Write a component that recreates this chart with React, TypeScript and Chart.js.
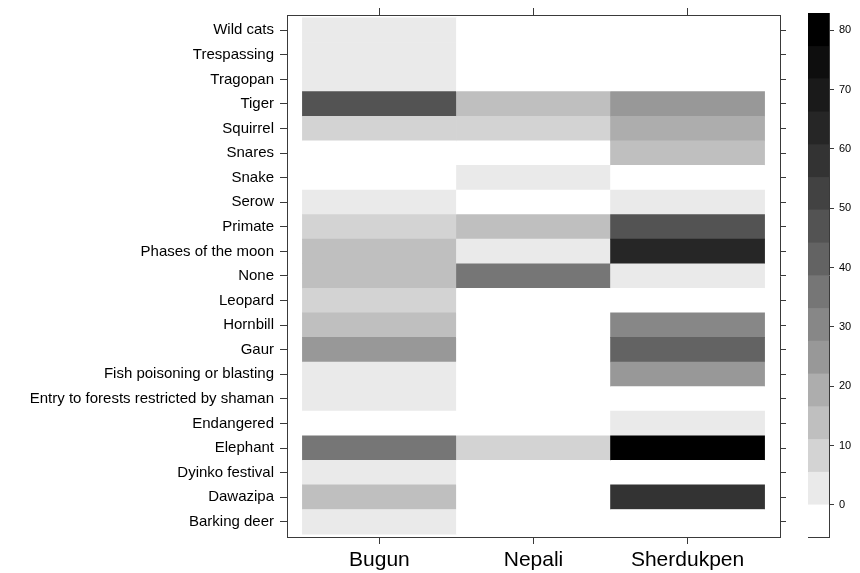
import React, { useEffect, useRef } from 'react';
import { Chart, registerables } from 'chart.js';
Chart.register(...registerables);

const rows = [
  'Wild cats', 'Trespassing', 'Tragopan', 'Tiger', 'Squirrel', 'Snares', 'Snake', 'Serow',
  'Primate', 'Phases of the moon', 'None', 'Leopard', 'Hornbill', 'Gaur',
  'Fish poisoning or blasting', 'Entry to forests restricted by shaman', 'Endangered',
  'Elephant', 'Dyinko festival', 'Dawazipa', 'Barking deer',
];
const groups = ['Bugun', 'Nepali', 'Sherdukpen'];
const bugun = [3, 3, 3, 47, 8, 0, 0, 3, 8, 14, 14, 8, 14, 25, 3, 3, 0, 36, 3, 14, 3];
const nepali = [0, 0, 0, 14, 8, 0, 3, 0, 14, 3, 36, 0, 0, 0, 0, 0, 0, 8, 0, 0, 0];
const sherdukpen = [0, 0, 0, 25, 19, 14, 0, 3, 47, 64, 3, 0, 30, 42, 25, 0, 3, 77.5, 0, 58, 0];
const colorbarTicks = [0, 10, 20, 30, 40, 50, 60, 70, 80];
const grays = [
  '#ffffff', '#eaeaea', '#d3d3d3', '#bfbfbf', '#adadad', '#989898', '#878787', '#767676',
  '#636363', '#535353', '#424242', '#333333', '#262626', '#1a1a1a', '#0e0e0e', '#000000',
];

const FONT = "'Liberation Sans', Arial, Helvetica, sans-serif";
const AXIS = '#3a3a3a';

const allVals = [...bugun, ...nepali, ...sherdukpen];
const zmin = Math.min(...allVals);
const zmax = Math.max(...allVals);
const zpad = 0.07 * (zmax - zmin);
const zlo = zmin - zpad;
const zhi = zmax + zpad;
const nBins = grays.length;
const zstep = (zhi - zlo) / nBins;
const binOf = (v: number) => Math.max(0, Math.min(nBins - 1, Math.floor((v - zlo) / zstep)));

export default function App() {
  const mainRef = useRef<HTMLCanvasElement>(null);
  const barRef = useRef<HTMLCanvasElement>(null);

  useEffect(() => {
    const cells: any[] = [];
    const colors: string[] = [];
    [bugun, nepali, sherdukpen].forEach((vals, c) => {
      vals.forEach((v, r) => {
        cells.push({ x: c + 1, y: [r - 0.5, r + 0.5] });
        colors.push(grays[binOf(v)]);
      });
    });

    const colTicks = (s: any) => { s.ticks = groups.map((_, i) => ({ value: i + 1 })); };
    const rowTicks = (s: any) => { s.ticks = rows.map((_, i) => ({ value: i })); };
    const gridOpt = (len: number) => ({ drawOnChartArea: false, tickLength: len, color: AXIS, lineWidth: 1, offset: false });
    const border = { display: true, color: AXIS, width: 1 };

    const main = new Chart(mainRef.current!, {
      type: 'bar',
      data: {
        datasets: [{
          data: cells,
          backgroundColor: colors,
          borderWidth: 0,
          barPercentage: 1,
          categoryPercentage: 1,
        }],
      },
      options: {
        animation: false,
        responsive: false,
        maintainAspectRatio: false,
        layout: { padding: 0 },
        plugins: { legend: { display: false }, tooltip: { enabled: false } },
        scales: {
          x: {
            type: 'linear', position: 'bottom', min: 0.4, max: 3.6, stacked: true, offset: false,
            afterBuildTicks: colTicks,
            ticks: { callback: (v: any) => groups[v - 1], font: { family: FONT, size: 21 }, color: '#000', padding: 4, maxRotation: 0, autoSkip: false },
            grid: gridOpt(7), border,
            afterFit: (s: any) => { s.height = 36; },
          },
          xTop: {
            type: 'linear', position: 'top', min: 0.4, max: 3.6, offset: false,
            afterBuildTicks: colTicks,
            ticks: { display: false },
            grid: gridOpt(7), border,
            afterFit: (s: any) => { s.height = 13; },
          },
          y: {
            type: 'linear', position: 'left', reverse: true, min: -0.62, max: 20.62, stacked: false, offset: false,
            afterBuildTicks: rowTicks,
            ticks: { callback: (v: any) => rows[v], font: { family: FONT, size: 15 }, color: '#000', padding: 6, autoSkip: false },
            grid: gridOpt(7), border,
            afterFit: (s: any) => { s.width = 287; },
          },
          yRight: {
            type: 'linear', position: 'right', reverse: true, min: -0.62, max: 20.62, offset: false,
            afterBuildTicks: rowTicks,
            ticks: { display: false },
            grid: gridOpt(6), border,
            afterFit: (s: any) => { s.width = 20; },
          },
        },
      } as any,
    });

    const bins = grays.map((_, k) => ({ x: 'bar', y: [zlo + k * zstep, zlo + (k + 1) * zstep] }));
    const bar = new Chart(barRef.current!, {
      type: 'bar',
      data: {
        labels: ['bar'],
        datasets: [{
          data: bins,
          backgroundColor: grays,
          borderWidth: 0,
          barPercentage: 1,
          categoryPercentage: 1,
        }],
      },
      options: {
        animation: false,
        responsive: false,
        maintainAspectRatio: false,
        layout: { padding: 0 },
        plugins: { legend: { display: false }, tooltip: { enabled: false } },
        scales: {
          x: {
            type: 'category', position: 'bottom', offset: true,
            ticks: { display: false }, grid: { display: false }, border,
            afterFit: (s: any) => { s.height = 36; },
          },
          xTop: {
            type: 'category', position: 'top', labels: ['bar'], offset: true,
            ticks: { display: false }, grid: { display: false }, border,
            afterFit: (s: any) => { s.height = 13; },
          },
          y: {
            type: 'linear', position: 'right', min: zlo, max: zhi,
            afterBuildTicks: (s: any) => { s.ticks = colorbarTicks.map((v) => ({ value: v })); },
            ticks: { font: { family: FONT, size: 11 }, color: '#000', padding: 5 },
            grid: gridOpt(5), border,
            afterFit: (s: any) => { s.width = 31; },
          },
          yLeft: {
            type: 'linear', position: 'left', min: zlo, max: zhi,
            ticks: { display: false }, grid: { display: false }, border,
            afterFit: (s: any) => { s.width = 8; },
          },
        },
      } as any,
    });

    return () => { main.destroy(); bar.destroy(); };
  }, []);

  return (
    <div style={{ position: 'absolute', left: 0, top: 0, width: 860, height: 573, background: '#fff' }}>
      <canvas ref={mainRef} width={800} height={573}
        style={{ position: 'absolute', left: 0, top: 0, width: 800, height: 573 }} />
      <canvas ref={barRef} width={60} height={573}
        style={{ position: 'absolute', left: 800, top: 0, width: 60, height: 573 }} />
    </div>
  );
}
